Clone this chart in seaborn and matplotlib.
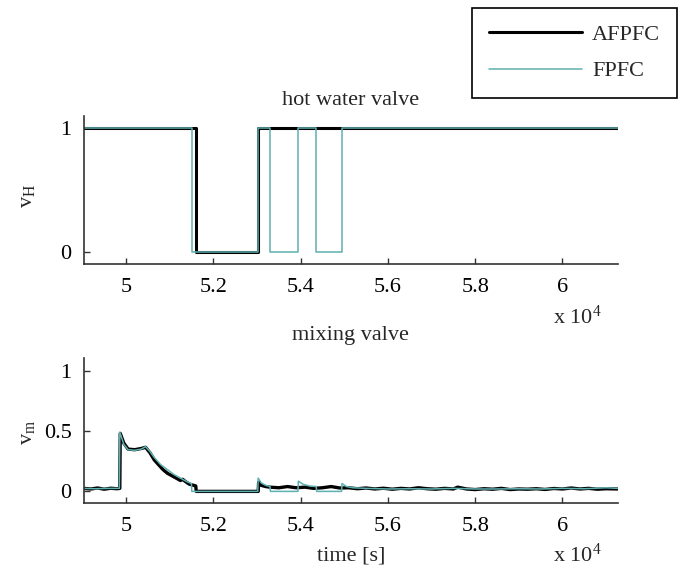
import numpy as np
import pandas as pd
import matplotlib
matplotlib.use("Agg")
import matplotlib.pyplot as plt
import seaborn as sns
from matplotlib.ticker import FuncFormatter

# ---------------- data ----------------
series_names = ["AFPFC", "FPFC"]

# hot water valve (on/off, step signal), time in s
afpfc_vh_t = [49040, 51600, 53035, 61260]
afpfc_vh_v = [1, 0, 1, 1]
fpfc_vh_t = [49040, 51510, 53020, 53310, 53940, 54360, 54940, 61260]
fpfc_vh_v = [1, 0, 1, 0, 1, 0, 1, 1]

# mixing valve
afpfc_vm_t = [49040, 49200, 49350, 49500, 49650, 49800, 49860, 49870, 49950, 50050,
              50200, 50350, 50450, 50550, 50650, 50750, 50850, 50950, 51050, 51150,
              51250, 51300, 51350, 51450, 51550, 51600, 51610, 53030, 53040, 53100,
              53200, 53300, 53500, 53700, 53900, 54100, 54300, 54500, 54700, 54900,
              55100, 55300, 55500, 55700, 55900, 56100, 56300, 56500, 56700, 56900,
              57100, 57300, 57500, 57600, 57800, 58000, 58200, 58400, 58600, 58800,
              59000, 59200, 59400, 59600, 59800, 60000, 60200, 60400, 60600, 60800,
              61000, 61260]
afpfc_vm_v = [0.025, 0.020, 0.028, 0.018, 0.026, 0.022, 0.025, 0.480, 0.400, 0.350,
              0.345, 0.355, 0.365, 0.320, 0.260, 0.220, 0.180, 0.150, 0.130, 0.110,
              0.090, 0.100, 0.085, 0.060, 0.050, 0.045, 0.000, 0.000, 0.075, 0.050,
              0.040, 0.035, 0.030, 0.040, 0.030, 0.035, 0.025, 0.030, 0.040, 0.028,
              0.030, 0.022, 0.028, 0.020, 0.026, 0.018, 0.025, 0.020, 0.030, 0.022,
              0.018, 0.025, 0.020, 0.035, 0.020, 0.015, 0.022, 0.018, 0.025, 0.015,
              0.020, 0.018, 0.022, 0.016, 0.024, 0.020, 0.028, 0.020, 0.025, 0.018,
              0.022, 0.020]
fpfc_vm_t = [49040, 49300, 49600, 49850, 49860, 49950, 50050, 50200, 50350, 50450,
             50550, 50650, 50800, 50950, 51100, 51250, 51400, 51500, 51510, 53020,
             53030, 53100, 53200, 53300, 53310, 53940, 53950, 54050, 54200, 54360,
             54370, 54940, 54950, 55050, 55200, 55500, 56000, 56500, 57000, 57500,
             58000, 58500, 59000, 59500, 60000, 60500, 61000, 61260]
fpfc_vm_v = [0.025, 0.022, 0.025, 0.025, 0.490, 0.390, 0.345, 0.340, 0.350, 0.370,
             0.330, 0.280, 0.220, 0.180, 0.140, 0.110, 0.080, 0.065, 0.000, 0.000,
             0.110, 0.070, 0.050, 0.040, 0.000, 0.000, 0.085, 0.060, 0.045, 0.040,
             0.000, 0.000, 0.065, 0.040, 0.030, 0.025, 0.020, 0.022, 0.020, 0.025,
             0.020, 0.020, 0.022, 0.020, 0.025, 0.022, 0.030, 0.025]

x_ticks = [50000, 52000, 54000, 56000, 58000, 60000]
x_lim = (49040, 61260)

# ---------------- style ----------------
sns.set_style("ticks")
plt.rcParams["font.family"] = ["Liberation Serif", "DejaVu Serif"]
plt.rcParams["mathtext.fontset"] = "custom"
plt.rcParams["mathtext.rm"] = "Liberation Serif"
plt.rcParams["mathtext.it"] = "Liberation Serif:italic"
plt.rcParams["font.size"] = 16

FS = 16
black = "#000000"
teal = "#5fb0b0"
spine_col = "#333333"

fig = plt.figure(figsize=(6.83, 5.68), dpi=100)
ax1 = fig.add_axes([0.1230, 0.5352, 0.7811, 0.2606])
ax2 = fig.add_axes([0.1230, 0.1136, 0.7811, 0.2553])

df_h_a = pd.DataFrame({"t": afpfc_vh_t, "v": afpfc_vh_v})
df_h_f = pd.DataFrame({"t": fpfc_vh_t, "v": fpfc_vh_v})
df_m_a = pd.DataFrame({"t": afpfc_vm_t, "v": afpfc_vm_v})
df_m_f = pd.DataFrame({"t": fpfc_vm_t, "v": fpfc_vm_v})

sns.lineplot(data=df_h_a, x="t", y="v", ax=ax1, color=black, linewidth=2.2,
             drawstyle="steps-post", estimator=None, sort=False, label=series_names[0])
sns.lineplot(data=df_h_f, x="t", y="v", ax=ax1, color=teal, linewidth=1.1,
             drawstyle="steps-post", estimator=None, sort=False, label=series_names[1])
sns.lineplot(data=df_m_a, x="t", y="v", ax=ax2, color=black, linewidth=2.4,
             estimator=None, sort=False)
sns.lineplot(data=df_m_f, x="t", y="v", ax=ax2, color=teal, linewidth=1.1,
             estimator=None, sort=False)

fmt = FuncFormatter(lambda v, p: f"{v/1e4:g}")
for ax in (ax1, ax2):
    ax.set_xlim(*x_lim)
    ax.set_ylim(-0.1, 1.1)
    ax.set_xticks(x_ticks)
    ax.xaxis.set_major_formatter(fmt)
    ax.tick_params(direction="in", length=4, width=1, colors=spine_col,
                   labelcolor="black", labelsize=FS)
    ax.tick_params(axis="x", pad=10)
    ax.tick_params(axis="y", pad=9)
    sns.despine(ax=ax)
    for s in ("left", "bottom"):
        ax.spines[s].set_color(spine_col)
        ax.spines[s].set_linewidth(1.2)
    ax.set_xlabel("")
    ax.text(0.971, -0.36, r"x 10$^{4}$", transform=ax.transAxes, ha="right",
            va="center", fontsize=FS)

ax1.set_yticks([0, 1])
ax1.set_yticklabels(["0", "1"])
ax2.set_yticks([0, 0.5, 1])
ax2.set_yticklabels(["0", "0.5", "1"])

ax1.set_ylabel(r"$\mathregular{v_H}$", fontsize=FS)
ax2.set_ylabel(r"$\mathregular{v_m}$", fontsize=FS)
ax1.yaxis.set_label_coords(-0.088, 0.46)
ax2.yaxis.set_label_coords(-0.088, 0.49)

ax1.set_title("hot water valve", fontsize=FS, pad=8)
ax2.set_title("mixing valve", fontsize=FS, pad=13)
ax2.set_xlabel("time [s]", fontsize=FS)
ax2.xaxis.set_label_coords(0.5, -0.30)

handles, labels = ax1.get_legend_handles_labels()
ax1.get_legend().remove()
leg = fig.legend(handles, labels, loc="upper right",
                 bbox_to_anchor=(677 / 683, 1 - 8 / 568), borderaxespad=0,
                 fancybox=False, framealpha=1, edgecolor="black",
                 handlelength=4.2, handletextpad=0.45, labelspacing=0.7,
                 borderpad=0.75, fontsize=FS)
leg.get_frame().set_linewidth(1.2)

fig.savefig("out.png", dpi=100)
